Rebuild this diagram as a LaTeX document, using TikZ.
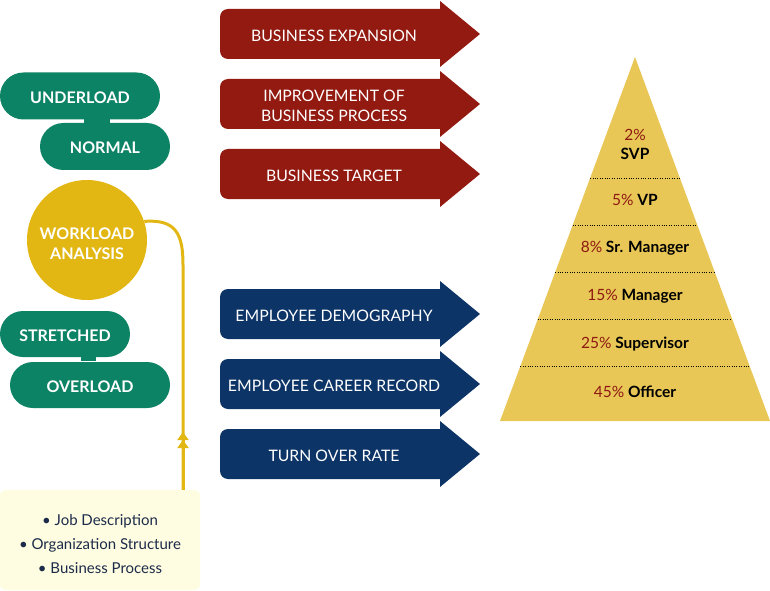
\documentclass[tikz,border=0pt]{standalone}
\usepackage{fontspec}
\setmainfont{Lato}
\usetikzlibrary{arrows.meta}
\usetikzlibrary{shapes.misc}

\definecolor{bizred}{HTML}{921A11}
\definecolor{empblue}{HTML}{0D3466}
\definecolor{pillgreen}{HTML}{0D8366}
\definecolor{wlgold}{HTML}{E2B714}
\definecolor{pyrgold}{HTML}{E8C757}
\definecolor{boxcream}{HTML}{FEFDE1}
\definecolor{boxtext}{HTML}{1C2B4A}
\definecolor{pctred}{HTML}{8E1A12}

% arrow with rounded tail: name, centre y, colour, text
\newcommand{\hrarrow}[4]{%
  \fill[#3, rounded corners=8pt] (220,#2-25) rectangle (448,#2+25);
  \fill[#3] (440,#2+33) -- (480,#2) -- (440,#2-33) -- cycle;
  \node[arrowtext] (#1) at (334,#2-2) {#4};}
\newcommand{\pct}[1]{\textcolor{pctred}{\mdseries #1}}

\begin{document}
\begin{tikzpicture}[x=1pt, y=1pt,
    arrowtext/.style={text=white, align=center, font=\fontsize{15.8}{20}\selectfont},
    pill/.style={rounded rectangle, fill=pillgreen, inner sep=0pt, minimum height=47pt},
    pilltext/.style={text=white, font=\bfseries\fontsize{16}{18}\selectfont},
    feed/.style={wlgold, line width=3pt},
    level/.style={font=\bfseries\fontsize{15.5}{19}\selectfont, align=center}]
  \useasboundingbox (0,0) rectangle (770,590);

  % business and employee inputs
  \hrarrow{expansion}{556}{bizred}{BUSINESS EXPANSION}
  \hrarrow{improve}{486}{bizred}{IMPROVEMENT OF\\BUSINESS PROCESS}
  \hrarrow{target}{416}{bizred}{BUSINESS TARGET}
  \hrarrow{demography}{276}{empblue}{EMPLOYEE DEMOGRAPHY}
  \hrarrow{career}{206}{empblue}{EMPLOYEE CAREER RECORD}
  \hrarrow{turnover}{136}{empblue}{TURN OVER RATE}

  % workload states
  \fill[pillgreen] (84,465) rectangle (110,473);
  \fill[pillgreen] (81,229) rectangle (96,237);
  \node[pill, minimum width=160pt] (underload) at (80,494) {};
  \node[pill, minimum width=130pt] (normal) at (105,443.5) {};
  \node[pill, minimum width=130pt, minimum height=46pt] (stretched) at (65,256) {};
  \node[pill, minimum width=160pt, minimum height=46pt] (overload) at (90,205) {};
  \node[pilltext] (underloadlbl) at ([yshift=-1.5pt]underload.center) {UNDERLOAD};
  \node[pilltext] (normallbl) at ([yshift=-1.5pt]normal.center) {NORMAL};
  \node[pilltext] (stretchedlbl) at ([yshift=-1.5pt]stretched.center) {STRETCHED};
  \node[pilltext] (overloadlbl) at ([yshift=-1.5pt]overload.center) {OVERLOAD};

  \node[circle, fill=wlgold, minimum size=120pt, inner sep=0pt] (wla) at (87,350) {};
  \node[text=white, align=center, font=\bfseries\fontsize{16}{20}\selectfont]
    (wlalbl) at ([yshift=-4pt]wla.center) {WORKLOAD\\ANALYSIS};

  % source documents
  \node[fill=boxcream, rounded corners=5pt, minimum width=200pt, minimum height=100pt] (inputs) at (100,50) {};
  \node[text=boxtext, align=center, font=\fontsize{15}{24}\selectfont] (inputlist) at (100,46)
    {\textbullet\ Job Description\\\textbullet\ Organization Structure\\\textbullet\ Business Process};

  \coordinate (feedtip) at (183,158);
  \draw[feed] (inputs.north -| feedtip) -- (183,325) .. controls (183,356) and (176,371) .. (wla.18);
  \draw[feed, -{Triangle[width=11pt,length=8pt]Triangle[width=11pt,length=8pt]}]
    (inputs.north -| feedtip) -- (feedtip);

  % grade pyramid
  \fill[pyrgold] (500,169) -- (635,533) -- (770,169) -- cycle;
  \foreach \y in {412,365,318,271,224}
    \draw[dotted, thin] ({635-135/364*(533-\y)},\y) -- ({635+135/364*(533-\y)},\y);
  \node[level] (svp) at (635,446) {\pct{2\%}\\SVP};
  \node[level] (vp) at (635,390) {\pct{5\%} VP};
  \node[level] (srmgr) at (635,342) {\pct{8\%} Sr. Manager};
  \node[level] (mgr) at (635,294) {\pct{15\%} Manager};
  \node[level] (spv) at (635,246) {\pct{25\%} Supervisor};
  \node[level] (officer) at (635,198) {\pct{45\%} Officer};
\end{tikzpicture}
\end{document}
